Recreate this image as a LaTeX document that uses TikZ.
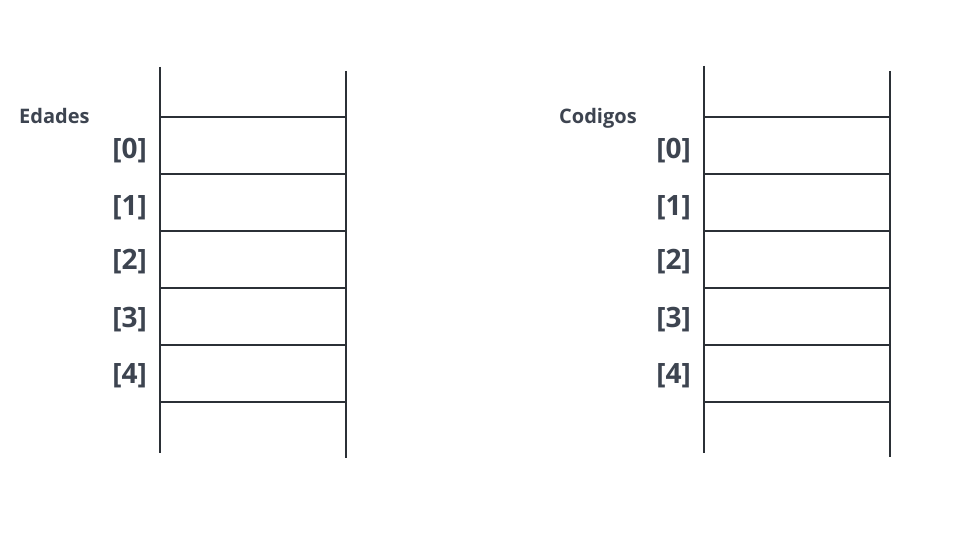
\documentclass[tikz,border=0pt]{standalone}
\usepackage{fontspec}
\setmainfont{Open Sans}
\usetikzlibrary{positioning}
\definecolor{inkgray}{HTML}{2B3036}
\definecolor{labelgray}{HTML}{3D4450}
\tikzset{
  cell/.style= {
    rectangle,
    draw = inkgray,
    line width = 1.2pt,
    minimum width = 186pt,
    minimum height = 57pt,
    inner sep = 0pt,
    outer sep = 0pt
  },
  rail/.style= {
    draw = inkgray,
    line width = 1.5pt
  },
  indexlabel/.style= {
    font = \bfseries\fontsize{28}{28}\selectfont,
    text = labelgray,
    anchor = east,
    inner sep = 0pt
  },
  arrayname/.style= {
    font = \bfseries\fontsize{20}{20}\selectfont,
    text = labelgray,
    anchor = base west,
    inner sep = 0pt
  }
}
\begin{document}
\begin{tikzpicture}[x=1pt,y=-1pt]
  \useasboundingbox[fill=white] (0,0) rectangle (960,540);

  % Edades
  \node[cell] (e0) at (253,145.5) {};
  \foreach \i/\j in {1/0,2/1,3/2,4/3}
    \node[cell,below=0pt of e\j] (e\i) {};
  \draw[rail] (160,67) -- (160,453);
  \draw[rail] (346,71) -- (346,458);
  \node[arrayname] (edades) at (19,124) {Edades};
  \foreach \i/\y in {0/151,1/208,2/262,3/320,4/376}
    \node[indexlabel] (ei\i) at (147,\y) {[\i]};

  % Codigos
  \node[cell] (c0) at (797,145.5) {};
  \foreach \i/\j in {1/0,2/1,3/2,4/3}
    \node[cell,below=0pt of c\j] (c\i) {};
  \draw[rail] (704,66) -- (704,453);
  \draw[rail] (890,71) -- (890,457);
  \node[arrayname] (codigos) at (559,124) {Codigos};
  \foreach \i/\y in {0/151,1/208,2/262,3/320,4/376}
    \node[indexlabel] (ci\i) at (691,\y) {[\i]};
\end{tikzpicture}
\end{document}
